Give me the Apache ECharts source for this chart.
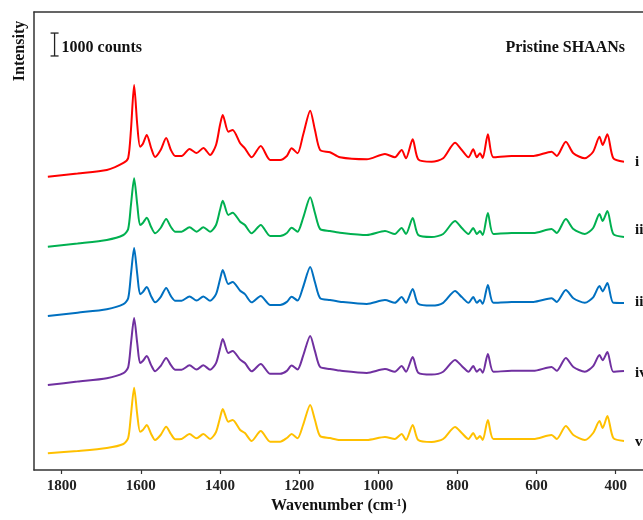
<!DOCTYPE html>
<html>
<head>
<meta charset="utf-8">
<script src="https://cdn.jsdelivr.net/npm/echarts@6/dist/echarts.min.js"></script>
<style>
  html, body { margin: 0; padding: 0; background: #fff; }
  #chart { width: 643px; height: 520px; }
</style>
</head>
<body>
<div id="chart"></div>
<script>
// Raman shift (cm-1), shared by all five spectra
const wavenumbers = [
  1835, 1760, 1686, 1644, 1632, 1625, 1617, 1609, 1602, 1595,
  1585, 1574, 1564, 1550, 1536, 1524, 1513, 1497, 1477, 1459,
  1442, 1425, 1410, 1400, 1393, 1379, 1368, 1349, 1337, 1320,
  1297, 1273, 1248, 1231, 1219, 1204, 1190, 1172, 1160, 1147,
  1122, 1097, 1029, 983, 958, 941, 930, 913, 899, 865,
  836, 806, 789, 772, 760, 751, 743, 736, 723, 709,
  663, 608, 562, 549, 526, 507, 478, 457, 441, 433,
  421, 406, 379
];

// Intensities (counts) of each spectrum
const spectrumI = [
  808, 948, 1101, 1407, 1625, 2848, 4813, 3066, 2118, 2236,
  2629, 2062, 1669, 1974, 2498, 1974, 1712, 1712, 2018, 1843,
  2062, 1756, 2193, 3066, 3503, 2774, 2848, 2267, 2049, 1656,
  2149, 1538, 1538, 1712, 2049, 1830, 2629, 3691, 2848, 1974,
  1874, 1656, 1568, 1800, 1656, 1974, 1612, 2442, 1568, 1463,
  1612, 2293, 1974, 1656, 2005, 1656, 1830, 1625, 2660, 1656,
  1712, 1712, 1900, 1712, 2337, 1830, 1612, 1900, 2555, 2193,
  2660, 1612, 1463
];
const spectrumII = [
  751, 891, 1044, 1262, 1524, 2573, 3739, 2573, 1699, 1786,
  2018, 1612, 1337, 1568, 1961, 1612, 1407, 1407, 1599, 1407,
  1599, 1407, 1699, 2354, 2760, 2136, 2236, 1843, 1699, 1337,
  1699, 1219, 1219, 1350, 1581, 1407, 2005, 2909, 2223, 1524,
  1437, 1363, 1262, 1437, 1306, 1568, 1306, 2005, 1262, 1175,
  1306, 1874, 1568, 1306, 1568, 1306, 1437, 1262, 2223, 1306,
  1350, 1350, 1524, 1350, 1961, 1524, 1306, 1568, 2180, 1874,
  2311, 1306, 1175
];
const spectrumIII = [
  725, 870, 1020, 1240, 1500, 2540, 3695, 2540, 1680, 1770,
  1992, 1590, 1320, 1550, 1948, 1590, 1390, 1390, 1580, 1400,
  1580, 1390, 1680, 2320, 2734, 2120, 2210, 1830, 1680, 1320,
  1599, 1210, 1210, 1340, 1570, 1400, 1990, 2865, 2200, 1510,
  1420, 1350, 1250, 1420, 1300, 1550, 1300, 1904, 1260, 1180,
  1300, 1817, 1550, 1300, 1550, 1300, 1420, 1260, 2079, 1300,
  1340, 1340, 1500, 1340, 1861, 1500, 1300, 1540, 2035, 1800,
  2166, 1300, 1293
];
const spectrumIV = [
  712, 860, 1010, 1230, 1490, 2520, 3638, 2520, 1670, 1760,
  1978, 1580, 1310, 1540, 1891, 1580, 1380, 1380, 1570, 1390,
  1570, 1380, 1670, 2300, 2721, 2110, 2197, 1820, 1670, 1310,
  1629, 1200, 1200, 1330, 1560, 1390, 1980, 2852, 2190, 1500,
  1410, 1340, 1240, 1410, 1290, 1540, 1290, 1935, 1250, 1170,
  1290, 1804, 1540, 1290, 1540, 1290, 1410, 1250, 2066, 1290,
  1330, 1330, 1500, 1330, 1891, 1500, 1290, 1540, 2022, 1790,
  2153, 1290, 1323
];
const spectrumV = [
  729, 830, 961, 1135, 1397, 2402, 3594, 2402, 1673, 1747,
  1965, 1572, 1310, 1528, 1891, 1572, 1341, 1354, 1572, 1384,
  1572, 1354, 1659, 2271, 2664, 2109, 2184, 1747, 1616, 1266,
  1703, 1236, 1236, 1397, 1572, 1384, 1965, 2839, 2184, 1485,
  1397, 1310, 1310, 1441, 1354, 1572, 1310, 1965, 1310, 1223,
  1354, 1878, 1616, 1354, 1616, 1354, 1485, 1310, 2184, 1354,
  1354, 1354, 1528, 1354, 1921, 1528, 1310, 1616, 2140, 1834,
  2358, 1397, 1266
];

const traceNames = ['i', 'ii', 'iii', 'iv', 'v'];
const stackOffsets = [12000, 9000, 6000, 3000, 0];   // vertical stacking, counts
const tickLabels = [1800, 1600, 1400, 1200, 1000, 800, 600, 400];
const scaleBar = { at: 1818, from: 18080, counts: 1000 };
const sampleTitle = 'Pristine SHAANs';

const spectra = [spectrumI, spectrumII, spectrumIII, spectrumIV, spectrumV];
const colors = ['#FF0000', '#00B050', '#0070C0', '#7030A0', '#FFC000'];
const serif = "'Liberation Serif', 'Times New Roman', serif";
const axisColor = '#333';

const chart = echarts.init(document.getElementById('chart'), null, { renderer: 'canvas' });

const lineSeries = spectra.map((vals, k) => ({
  type: 'line',
  name: traceNames[k],
  data: wavenumbers.map((w, j) => [w, vals[j] + stackOffsets[k]]),
  showSymbol: false,
  smooth: 0.25,
  lineStyle: { color: colors[k], width: 2 },
  itemStyle: { color: colors[k] },
  z: 3
}));

const scaleBarSeries = {
  type: 'custom',
  data: [[scaleBar.at, scaleBar.from, scaleBar.from + scaleBar.counts]],
  renderItem: (params, api) => {
    const lo = api.coord([api.value(0), api.value(1)]);
    const hi = api.coord([api.value(0), api.value(2)]);
    const cap = 4;
    const st = { stroke: '#222', lineWidth: 1.3 };
    return {
      type: 'group',
      children: [
        { type: 'line', shape: { x1: lo[0], y1: lo[1], x2: hi[0], y2: hi[1] }, style: st },
        { type: 'line', shape: { x1: lo[0] - cap, y1: lo[1], x2: lo[0] + cap, y2: lo[1] }, style: st },
        { type: 'line', shape: { x1: hi[0] - cap, y1: hi[1], x2: hi[0] + cap, y2: hi[1] }, style: st },
        { type: 'text', style: {
            x: lo[0] + 7, y: (lo[1] + hi[1]) / 2 + 3,
            text: scaleBar.counts + ' counts',
            font: 'bold 16px ' + serif, fill: '#111',
            textVerticalAlign: 'middle', textAlign: 'left' } }
      ]
    };
  },
  silent: true,
  z: 5
};

const labelY = [162, 230, 302, 373, 442];

chart.setOption({
  animation: false,
  backgroundColor: '#fff',
  grid: { left: 34, right: 0, top: 12, bottom: 50, containLabel: false },
  xAxis: [{
    type: 'value', inverse: true, min: 331, max: 1870,
    axisLine: { show: true, lineStyle: { color: axisColor, width: 1.5 } },
    axisTick: { show: true, length: 4, inside: false, customValues: tickLabels,
                lineStyle: { color: axisColor, width: 1.2 } },
    axisLabel: { customValues: tickLabels, margin: 9, formatter: v => String(v),
                 fontFamily: serif, fontWeight: 'bold', fontSize: 15, color: '#222' },
    splitLine: { show: false }
  }, {
    type: 'value', inverse: true, min: 331, max: 1870, position: 'top',
    axisLine: { show: true, lineStyle: { color: axisColor, width: 1.5 } },
    axisTick: { show: false }, axisLabel: { show: false }, splitLine: { show: false }
  }],
  yAxis: {
    type: 'value', min: 0, max: 20000,
    axisLine: { show: true, lineStyle: { color: axisColor, width: 1.5 } },
    axisTick: { show: false }, axisLabel: { show: false }, splitLine: { show: false }
  },
  series: [...lineSeries, scaleBarSeries],
  graphic: [
    { type: 'text', left: 271, top: 498, style: {
        text: 'Wavenumber (cm{sup|-1})', rich: { sup: { fontSize: 10, verticalAlign: 'top', padding: [0, 0, 6, 0], fontFamily: serif, fontWeight: 'bold', fill: '#111' } },
        font: 'bold 16px ' + serif, fill: '#111' } },
    { type: 'text', x: 20, y: 51, rotation: Math.PI / 2, style: {
        text: 'Intensity', font: 'bold 16px ' + serif, fill: '#111',
        textAlign: 'center', textVerticalAlign: 'middle' } },
    { type: 'text', x: 625, y: 48, style: {
        text: sampleTitle, font: 'bold 16px ' + serif, fill: '#111',
        textAlign: 'right', textVerticalAlign: 'middle' } },
    ...traceNames.map((t, k) => ({
      type: 'text', x: 635, y: labelY[k], style: {
        text: t, font: 'bold 15px ' + serif, fill: '#111',
        textAlign: 'left', textVerticalAlign: 'middle' } }))
  ]
});
</script>
</body>
</html>
